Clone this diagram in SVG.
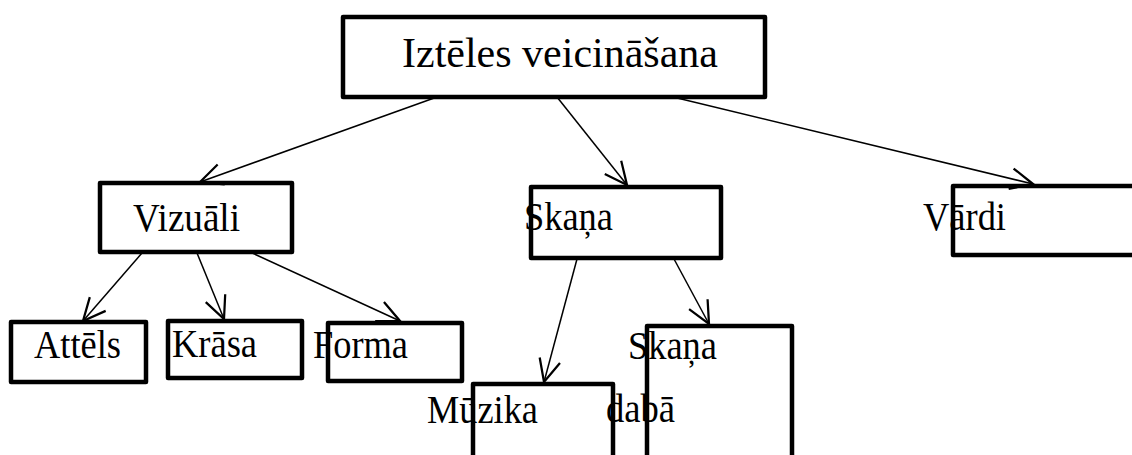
<svg xmlns="http://www.w3.org/2000/svg" width="1132" height="455" viewBox="0 0 1132 455">
<style>
.box{fill:#fff;stroke:#000;stroke-width:4.5;stroke-linejoin:round}
.t{font-family:"Liberation Serif","Times New Roman",serif;font-size:40px;fill:#000}
.big{font-size:42px}
.c line{stroke:#000;stroke-width:1.5}
</style>
<defs>
<marker id="arr" markerUnits="userSpaceOnUse" markerWidth="30" markerHeight="30" viewBox="-16 -10 20 20" refX="0" refY="0" orient="auto" overflow="visible">
<path d="M-15,-7 L0,0 L-15,7" fill="none" stroke="#000" stroke-width="1.5"/>
</marker>
</defs>
<rect width="1132" height="455" fill="#fff"/>
<g id="n-top"><rect class="box" x="343" y="17" width="422" height="80"/><text class="t big" x="402" y="67" textLength="316" lengthAdjust="spacingAndGlyphs">Iztēles veicināšana</text></g>
<g id="n-vizuali"><rect class="box" x="100" y="183" width="192" height="69"/><text class="t" x="133" y="231" textLength="107" lengthAdjust="spacingAndGlyphs">Vizuāli</text></g>
<g id="n-skana"><rect class="box" x="531" y="187" width="190" height="71"/><text class="t" x="524" y="230" textLength="89" lengthAdjust="spacingAndGlyphs">Skaņa</text></g>
<g id="n-vardi"><rect class="box" x="953" y="186" width="190" height="69"/><text class="t" x="923" y="230" textLength="83" lengthAdjust="spacingAndGlyphs">Vārdi</text></g>
<g id="n-attels"><rect class="box" x="11" y="322" width="135" height="60"/><text class="t" x="34" y="358" textLength="87" lengthAdjust="spacingAndGlyphs">Attēls</text></g>
<g id="n-krasa"><rect class="box" x="168" y="321" width="134" height="57"/><text class="t" x="172" y="357" textLength="85" lengthAdjust="spacingAndGlyphs">Krāsa</text></g>
<g id="n-forma"><rect class="box" x="328" y="323" width="134" height="58"/><text class="t" x="313" y="358" textLength="95" lengthAdjust="spacingAndGlyphs">Forma</text></g>
<g id="n-muzika"><rect class="box" x="473" y="384" width="140" height="90"/><text class="t" x="427" y="423" textLength="111" lengthAdjust="spacingAndGlyphs">Mūzika</text></g>
<g id="n-skana-daba"><rect class="box" x="647" y="326" width="145" height="150"/><text class="t" x="628" y="359" textLength="89" lengthAdjust="spacingAndGlyphs">Skaņa</text><text class="t" x="606" y="422" textLength="69" lengthAdjust="spacingAndGlyphs">dabā</text></g>
<g id="connectors" class="c">
<line x1="437" y1="97" x2="200" y2="182" marker-end="url(#arr)"/>
<line x1="557" y1="97" x2="627" y2="185" marker-end="url(#arr)"/>
<line x1="673" y1="97" x2="1033" y2="184" marker-end="url(#arr)"/>
<line x1="142" y1="253" x2="83" y2="321" marker-end="url(#arr)"/>
<line x1="197" y1="253" x2="224" y2="319" marker-end="url(#arr)"/>
<line x1="250" y1="252" x2="400" y2="321" marker-end="url(#arr)"/>
<line x1="577" y1="259" x2="544" y2="382" marker-end="url(#arr)"/>
<line x1="674" y1="259" x2="709" y2="324" marker-end="url(#arr)"/>
</g>
</svg>
